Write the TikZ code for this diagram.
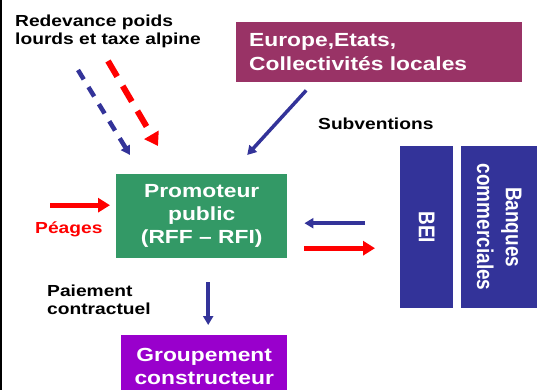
\documentclass[tikz,border=0pt]{standalone}
\usepackage{fontspec}
\setmainfont{Liberation Sans}[FakeStretch=1.2]
\newfontfamily\rotfont{Liberation Sans}
\usepackage{xcolor}
\usetikzlibrary{arrows.meta}
\definecolor{europecol}{HTML}{993366}
\definecolor{promocol}{HTML}{339966}
\definecolor{groupecol}{HTML}{9900CC}
\definecolor{bankcol}{HTML}{333399}
\definecolor{peagecol}{HTML}{FF0000}

\begin{document}
\begin{tikzpicture}[x=1pt, y=-1pt,
		box/.style={inner sep=0pt, text=white, font=\fontsize{19}{23}\selectfont\bfseries, align=center, anchor=north west},
		rottext/.style={inner sep=0pt, text=white, font=\rotfont\fontsize{19}{24}\selectfont\bfseries, align=center, rotate=-90, yscale=1.2, transform shape},
		lbl/.style={inner sep=0pt, font=\fontsize{16}{18}\selectfont\bfseries, align=left},
		bluearrow/.style={-{Triangle[length=9pt,width=10pt]}, line width=3.5pt, bankcol},
		redarrow/.style={-{Triangle[length=12pt,width=14pt]}, line width=5pt, peagecol}]
			\clip (0,0) rectangle (537,390);
			% Left frame line
			\draw[line width=1.5pt] (0.75,0) -- (0.75,390);
			
			% Boxes
			\node[box, fill=europecol, minimum width=286pt, minimum height=60pt, inner xsep=13pt, text width=260pt, align=left, font=\fontsize{19}{24}\selectfont\bfseries] (europe) at (236,22) {Europe,Etats,\\Collectivités locales};
			\node[box, fill=promocol, minimum width=171pt, minimum height=84pt] (promoteur) at (116,174) {Promoteur\\public\\(RFF -- RFI)};
			\node[box, fill=groupecol, minimum width=166pt, minimum height=62pt] (groupement) at (121,335) {Groupement\\constructeur};
			\node[box, fill=bankcol, minimum width=53pt, minimum height=162pt] (bei) at (400,146) {};
			\node[box, fill=bankcol, minimum width=76pt, minimum height=162pt] (banques) at (461,146) {};
			\node[rottext] (beitext) at (bei.center) {BEI};
			\node[rottext] (banquestext) at (banques.center) {Banques\\commerciales};
			
			% Labels
			\node[lbl, anchor=north west] (redevance) at (15,15) {Redevance poids\\lourds et taxe alpine};
			\node[lbl, anchor=base west] (subventions) at (318,130) {Subventions};
			\node[lbl, anchor=base west, text=peagecol] (peages) at (35,233) {Péages};
			\node[lbl, anchor=north west] (paiement) at (47,285) {Paiement\\contractuel};
			
			% Flows
			\draw[bluearrow, line width=4.5pt, dash pattern=on 11pt off 9pt] ([xshift=-38pt,yshift=104pt]promoteur.north west) -- ([xshift=14pt,yshift=19pt]promoteur.north west);
			\draw[redarrow, -{Triangle[length=13pt,width=16pt]}, line width=6pt, dash pattern=on 18pt off 11pt] ([xshift=-8pt,yshift=113pt]promoteur.north west) -- ([xshift=42pt,yshift=28pt]promoteur.north west);
			\draw[bluearrow] ([xshift=-73pt,yshift=-8pt]europe.south) -- ([xshift=45.5pt,yshift=19pt]promoteur.north);
			\draw[redarrow] ([xshift=-66pt,yshift=11pt]promoteur.west) -- ([xshift=-6pt,yshift=11pt]promoteur.west);
			\draw[bluearrow] ([xshift=6.5pt,yshift=-24pt]promoteur.south) -- ([xshift=4pt,yshift=10pt]groupement.north);
			\draw[bluearrow] ([xshift=-35pt,yshift=4pt]bei.west) -- ([xshift=17pt,yshift=-7pt]promoteur.east);
			\draw[redarrow] ([xshift=17pt,yshift=-32pt]promoteur.east) -- ([xshift=-25pt,yshift=-21pt]bei.west);
		\end{tikzpicture}
\end{document}
